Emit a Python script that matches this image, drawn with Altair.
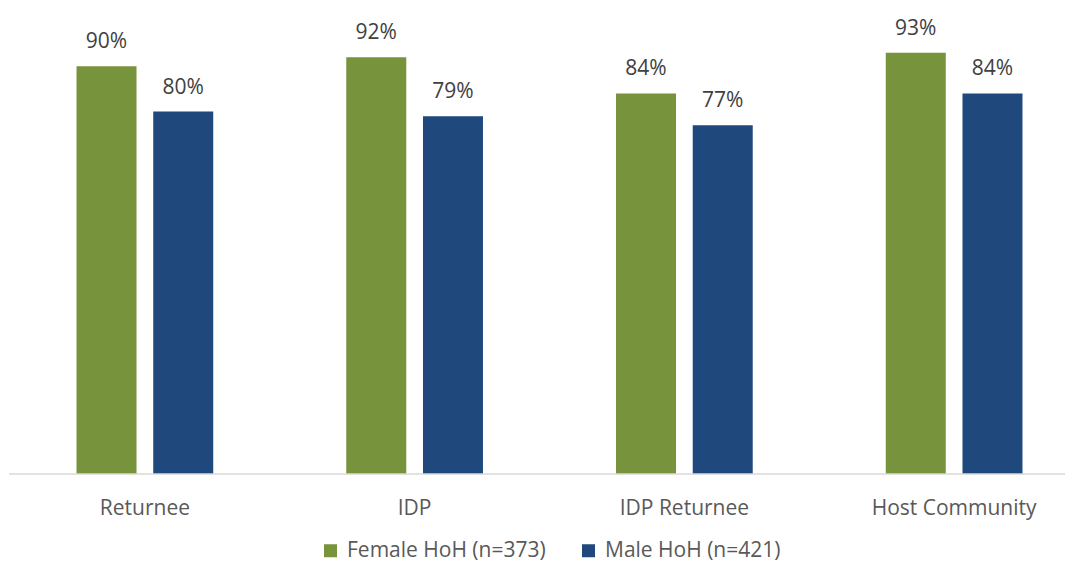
import altair as alt
import pandas as pd

categories = ["Returnee", "IDP", "IDP Returnee", "Host Community"]
series = ["Female HoH (n=373)", "Male HoH (n=421)"]
female = [0.90, 0.92, 0.84, 0.93]
male = [0.80, 0.79, 0.77, 0.84]
colors = ["#77933C", "#1F497D"]

rows = []
for c, f, m in zip(categories, female, male):
    rows.append({"category": c, "group": series[0], "value": f})
    rows.append({"category": c, "group": series[1], "value": m})
df = pd.DataFrame(rows)

FONT = "Open Sans"
W, H = 1056, 453

x = alt.X("category:N", sort=categories, title=None,
          scale=alt.Scale(range=[1, 1080], paddingInner=0, paddingOuter=0),
          axis=alt.Axis(labelAngle=0, domain=False, ticks=False, labelFontSize=21,
                        labelColor="#595959", labelFont=FONT, labelPadding=40,
                        labelBaseline="alphabetic"))
xo = alt.XOffset("group:N", sort=series,
                 scale=alt.Scale(paddingInner=0.218, paddingOuter=0.867))
y = alt.Y("value:Q", scale=alt.Scale(domain=[0, 1]), axis=None)

base = alt.Chart(df).encode(x=x, xOffset=xo, y=y)

bars = base.mark_bar().encode(
    color=alt.Color("group:N", sort=series,
                    scale=alt.Scale(domain=series, range=colors),
                    legend=alt.Legend(title=None, orient="none", direction="horizontal",
                                      legendX=311, legendY=519, symbolType="square",
                                      symbolSize=169, symbolStrokeWidth=0,
                                      labelFontSize=21, labelColor="#595959",
                                      labelFont=FONT, columnPadding=32, labelOffset=6,
                                      labelLimit=0))
)

labels = base.mark_text(baseline="alphabetic", dy=-18, fontSize=21, font=FONT,
                        color="#404040").encode(
    text=alt.Text("value:Q", format=".0%")
)

baseline = alt.Chart(pd.DataFrame({"v": [0]})).mark_rule(color="#D9D9D9", strokeWidth=1.5).encode(
    x=alt.value(0), x2=alt.value(W), y=alt.value(H)
)

chart = alt.layer(bars, labels, baseline).properties(
    width=W, height=H,
    autosize=alt.AutoSizeParams(type="none"),
    padding={"left": 1, "top": 13, "right": 0, "bottom": 88},
).configure_view(stroke=None)

chart.save("out.html", embed_options={"renderer": "svg", "actions": False})
